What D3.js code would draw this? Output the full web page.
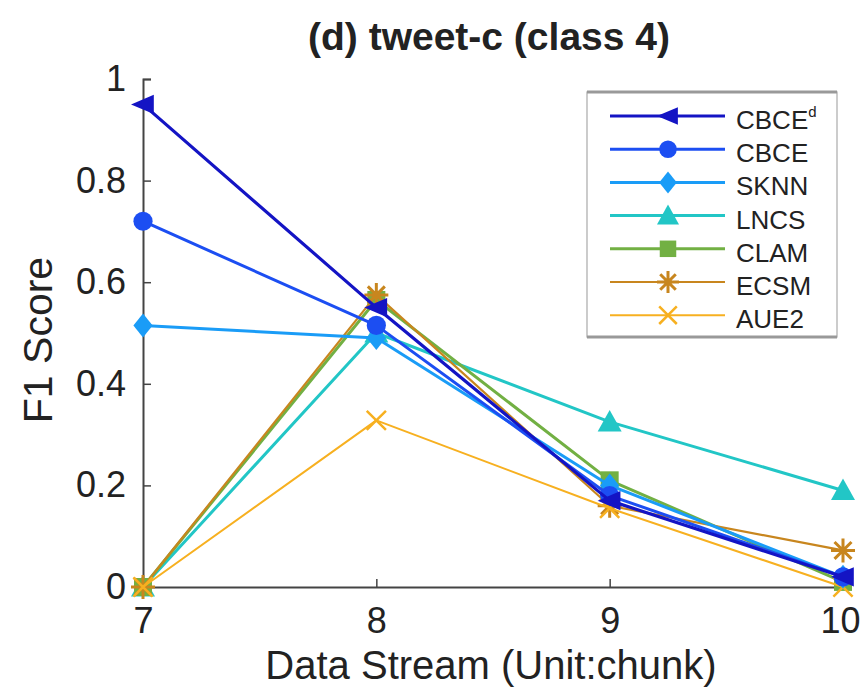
<!DOCTYPE html>
<html>
<head>
<meta charset="utf-8">
<script src="https://cdn.jsdelivr.net/npm/d3@7/dist/d3.min.js"></script>
<style>
  body { margin: 0; background: #fff; }
  text { font-family: "Liberation Sans", Arial, sans-serif; fill: #222; }
</style>
</head>
<body>
<div id="chart"></div>
<script>
// data
var chunks = [7, 8, 9, 10];
var yTicks = [0, 0.2, 0.4, 0.6, 0.8, 1];
var yTickLabels = ["0", "0.2", "0.4", "0.6", "0.8", "1"];

var cbceD = [0.95, 0.55, 0.17, 0.02];
var cbce  = [0.72, 0.515, 0.18, 0.02];
var sknn  = [0.515, 0.49, 0.2, 0.02];
var lncs  = [0.0, 0.5, 0.325, 0.19];
var clam  = [0.0, 0.565, 0.21, 0.01];
var ecsm  = [0.0, 0.575, 0.16, 0.072];
var aue2  = [0.0, 0.328, 0.155, 0.0];

var seriesNames = ["CBCE", "CBCE", "SKNN", "LNCS", "CLAM", "ECSM", "AUE2"];
var seriesSup = ["d", "", "", "", "", "", ""];
var seriesVals = [cbceD, cbce, sknn, lncs, clam, ecsm, aue2];
var seriesColors = ["#1414c4", "#1c4ef2", "#1a9cf7", "#22c6c6", "#72b043", "#c8861e", "#f7b020"];
var seriesMarks = ["triLeft", "circle", "diamond", "triUp", "square", "star", "cross"];
var seriesWidth = [3.2, 3, 3, 3, 3, 2.2, 2];

var W = 862, H = 689;
var svg = d3.select("#chart").append("svg")
	.attr("width", W)
	.attr("height", H);

var x = d3.scaleLinear().domain([7, 10]).range([143, 843]);
var y = d3.scaleLinear().domain([0, 1]).range([587, 79]);

// title
svg.append("text")
	.attr("x", 489).attr("y", 50)
	.attr("text-anchor", "middle")
	.style("font-size", "39px")
	.style("font-weight", "bold")
	.text("(d) tweet-c (class 4)");

// axes, matlab style ticks pointing inward
var xAxis = d3.axisBottom(x).tickValues(chunks).tickSize(-8).tickPadding(20).tickFormat(d3.format("d"));
var yAxis = d3.axisLeft(y).tickValues(yTicks).tickSize(-8).tickPadding(17)
	.tickFormat((d, i) => yTickLabels[i]);

var gx = svg.append("g").attr("transform", "translate(0," + y(0) + ")").call(xAxis);
var gy = svg.append("g").attr("transform", "translate(" + x(7) + ",0)").call(yAxis);
[gx, gy].forEach(g => {
	g.select(".domain").attr("stroke", "#444").attr("stroke-width", 2);
	g.selectAll(".tick line").attr("stroke", "#444").attr("stroke-width", 1.5);
	g.selectAll(".tick text").style("font-size", "36px").attr("fill", "#222")
		.style("font-family", "'Liberation Sans', Arial, sans-serif");
});
// keep the last x label inside the page
gx.selectAll(".tick text").filter(d => d == 10).attr("dx", -3);

// axis labels
svg.append("text")
	.attr("x", 491).attr("y", 679)
	.attr("text-anchor", "middle")
	.style("font-size", "40px")
	.text("Data Stream (Unit:chunk)");
svg.append("text")
	.attr("transform", "translate(52,340) rotate(-90)")
	.attr("text-anchor", "middle")
	.style("font-size", "41px")
	.text("F1 Score");

// marker drawing
function drawMark(g, kind, cx, cy, color, s) {
	if (kind == "circle") {
		g.append("circle").attr("cx", cx).attr("cy", cy).attr("r", s * 0.8).attr("fill", color);
	} else if (kind == "triLeft") {
		g.append("path").attr("d", `M${cx - s},${cy} L${cx + s * 0.9},${cy - s * 0.8} L${cx + s * 0.9},${cy + s * 0.8} Z`).attr("fill", color);
	} else if (kind == "triUp") {
		g.append("path").attr("d", `M${cx},${cy - s} L${cx + s},${cy + s * 0.8} L${cx - s},${cy + s * 0.8} Z`).attr("fill", color);
	} else if (kind == "diamond") {
		g.append("path").attr("d", `M${cx},${cy - s} L${cx + s * 0.8},${cy} L${cx},${cy + s} L${cx - s * 0.8},${cy} Z`).attr("fill", color);
	} else if (kind == "square") {
		g.append("rect").attr("x", cx - s * 0.75).attr("y", cy - s * 0.75)
			.attr("width", s * 1.5).attr("height", s * 1.5).attr("fill", color);
	} else if (kind == "star") {
		var p = "";
		for (var a = 0; a < 4; a++) {
			var t = a * Math.PI / 4;
			p += `M${cx - s * Math.cos(t)},${cy - s * Math.sin(t)} L${cx + s * Math.cos(t)},${cy + s * Math.sin(t)} `;
		}
		g.append("path").attr("d", p).attr("stroke", color).attr("stroke-width", 3).attr("fill", "none");
	} else if (kind == "cross") {
		var k = s * 0.8;
		g.append("path").attr("d", `M${cx - k},${cy - k} L${cx + k},${cy + k} M${cx - k},${cy + k} L${cx + k},${cy - k}`)
			.attr("stroke", color).attr("stroke-width", 2.5).attr("fill", "none");
	}
}

var line = d3.line().x((d, i) => x(chunks[i])).y(d => y(d));

// draw order so that the dark blue sits on top at the right
var order = [3, 4, 5, 6, 2, 1, 0];
order.forEach(si => {
	var g = svg.append("g");
	g.append("path")
		.datum(seriesVals[si])
		.attr("d", line)
		.attr("fill", "none")
		.attr("stroke", seriesColors[si])
		.attr("stroke-width", seriesWidth[si])
		.attr("stroke-linejoin", "round");
	seriesVals[si].forEach((v, i) => drawMark(g, seriesMarks[si], x(chunks[i]), y(v), seriesColors[si], 12));
});

// legend
var lg = svg.append("g");
lg.append("rect")
	.attr("x", 587).attr("y", 92).attr("width", 250).attr("height", 245)
	.attr("fill", "#fff").attr("stroke", "#aaa").attr("stroke-width", 1.2);
lg.append("line").attr("x1", 587).attr("x2", 837).attr("y1", 92).attr("y2", 92).attr("stroke", "#999").attr("stroke-width", 3);
lg.append("line").attr("x1", 587).attr("x2", 837).attr("y1", 337).attr("y2", 337).attr("stroke", "#999").attr("stroke-width", 3);

seriesNames.forEach((nm, i) => {
	var cy = 116 + i * 33.2;
	var row = lg.append("g");
	row.append("line")
		.attr("x1", 610).attr("x2", 725).attr("y1", cy).attr("y2", cy)
		.attr("stroke", seriesColors[i]).attr("stroke-width", seriesWidth[i]);
	drawMark(row, seriesMarks[i], 668, cy, seriesColors[i], 11);
	var t = row.append("text")
		.attr("x", 736).attr("y", cy + 13)
		.style("font-size", "26px")
		.text(nm);
	if (seriesSup[i]) {
		t.append("tspan").attr("dy", -12).style("font-size", "15px").text(seriesSup[i]);
	}
});
</script>
</body>
</html>
